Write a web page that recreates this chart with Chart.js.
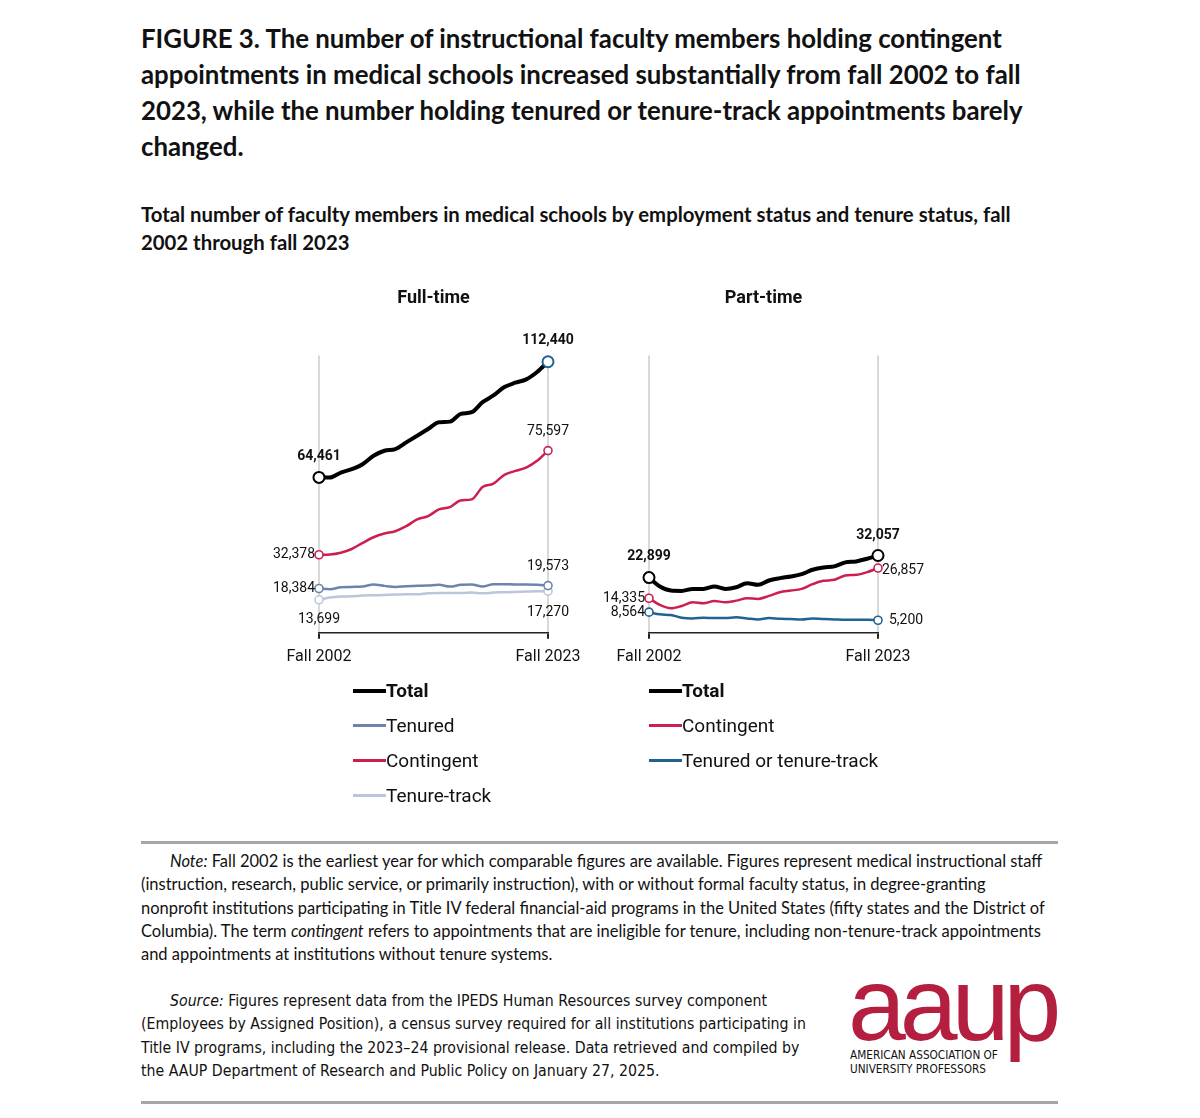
<!DOCTYPE html>
<html>
<head>
<meta charset="utf-8">
<script src="https://cdn.jsdelivr.net/npm/chart.js@4.4.1/dist/chart.umd.min.js"></script>
<style>
  html, body { margin: 0; padding: 0; background: #fff; }
  #page { position: relative; width: 1200px; height: 1118px; overflow: hidden; color: #111; }
  .abs { position: absolute; }
  .ln { width: max-content; white-space: nowrap; }
  #title { left: 141px; top: 20px; font: bold 24px Lato, sans-serif; line-height: 36px; }
  #subtitle { left: 141px; top: 200px; font: bold 18px Lato, sans-serif; line-height: 28px; }
  #note { left: 141px; top: 850px; font: 15px Lato, sans-serif; line-height: 23.3px; }
  #source { left: 141px; top: 989px; font: 16px "Liberation Sans Narrow", "DejaVu Sans Condensed", sans-serif; line-height: 23.3px; }
  .indent { padding-left: 29px; }
  .rule { left: 141px; width: 917px; height: 3px; background: #a6a6a6; }
  canvas { position: absolute; }
  .legend { position: absolute; top: 673px; font: 19px Roboto, sans-serif; color: #111; }
  .legend .row { height: 35px; display: flex; align-items: center; }
  .legend .swatch { width: 33px; }
  #logo { left: 848px; top: 952px; font: 104px "Liberation Sans", Arial, sans-serif; line-height: 1; letter-spacing: -6px; color: #b41f40; }
  #logotext { left: 850px; top: 1048px; font: 13px "Liberation Sans Narrow", "DejaVu Sans Condensed", sans-serif; line-height: 14px; color: #111; }
</style>
</head>
<body>
<div id="page">
  <div id="title" class="abs" data-w="882">
    <div class="ln">FIGURE 3. The number of instructional faculty members holding contingent</div>
    <div class="ln">appointments in medical schools increased substantially from fall 2002 to fall</div>
    <div class="ln">2023, while the number holding tenured or tenure-track appointments barely</div>
    <div class="ln">changed.</div>
  </div>
  <div id="subtitle" class="abs" data-w="870">
    <div class="ln">Total number of faculty members in medical schools by employment status and tenure status, fall</div>
    <div class="ln">2002 through fall 2023</div>
  </div>

  <canvas id="ftChart" width="350" height="404" style="left:259px;top:280px;"></canvas>
  <canvas id="ptChart" width="350" height="404" style="left:589px;top:280px;"></canvas>
  <div id="ftLegend" class="legend" style="left:353px;"></div>
  <div id="ptLegend" class="legend" style="left:649px;"></div>

  <div class="abs rule" style="top:841px;"></div>
  <div id="note" class="abs" data-w="904">
    <div class="ln indent"><i>Note:</i> Fall 2002 is the earliest year for which comparable figures are available. Figures represent medical instructional staff</div>
    <div class="ln">(instruction, research, public service, or primarily instruction), with or without formal faculty status, in degree-granting</div>
    <div class="ln">nonprofit institutions participating in Title IV federal financial-aid programs in the United States (fifty states and the District of</div>
    <div class="ln">Columbia). The term <i>contingent</i> refers to appointments that are ineligible for tenure, including non-tenure-track appointments</div>
    <div class="ln">and appointments at institutions without tenure systems.</div>
  </div>
  <div id="source" class="abs" data-w="665">
    <div class="ln indent"><i>Source:</i> Figures represent data from the IPEDS Human Resources survey component</div>
    <div class="ln">(Employees by Assigned Position), a census survey required for all institutions participating in</div>
    <div class="ln">Title IV programs, including the 2023–24 provisional release. Data retrieved and compiled by</div>
    <div class="ln">the AAUP Department of Research and Public Policy on January 27, 2025.</div>
  </div>
  <div id="logo" class="abs">aaup</div>
  <div id="logotext" class="abs" data-w="148">
    <div class="ln">AMERICAN ASSOCIATION OF</div>
    <div class="ln">UNIVERSITY PROFESSORS</div>
  </div>
  <div class="abs rule" style="top:1101px;"></div>
</div>

<script>
'use strict';

// years on the x axis
const years = [2002, 2003, 2004, 2005, 2006, 2007, 2008, 2009, 2010, 2011, 2012,
               2013, 2014, 2015, 2016, 2017, 2018, 2019, 2020, 2021, 2022, 2023];

// full-time faculty
const ftTotal = [64461, 64400, 66480, 67870, 69950, 73430, 75520, 76210, 78990, 81770, 84550,
                 87340, 87610, 90810, 91510, 95680, 98460, 101940, 103750, 105140, 108200, 112440];
const ftTenured = [18384, 18080, 18910, 19050, 19190, 20030, 19470, 19050, 19330, 19470, 19610,
                   19890, 19190, 19890, 20030, 19190, 20170, 20170, 20030, 20030, 19890, 19573];
const ftContingent = [32378, 32500, 33240, 34770, 37270, 39640, 41170, 42140, 44220, 47010, 48400,
                      51180, 52150, 54930, 55350, 60500, 61890, 65500, 67170, 68560, 71340, 75597];
const ftTenureTrack = [13699, 14600, 15020, 15160, 15440, 15580, 15720, 15850, 15990, 15990, 16410,
                       16550, 16550, 16550, 16690, 16410, 16690, 16830, 16970, 17110, 17245, 17270];

// part-time faculty
const ptTotal = [22899, 19190, 17520, 17380, 18220, 18220, 19190, 18220, 18910, 20580, 19890,
                 21700, 22670, 23360, 24340, 26150, 27120, 27540, 29200, 29620, 30730, 32057];
const ptContingent = [14335, 11540, 10150, 11130, 12660, 12240, 13210, 12660, 13350, 14320, 14050,
                      15300, 16830, 17520, 18220, 20170, 21560, 21970, 23780, 24060, 25170, 26857];
const ptTenuredTT = [8564, 7650, 7370, 6260, 5980, 6260, 6120, 6120, 6400, 5980, 5560,
                     6120, 5840, 5700, 5560, 5980, 5700, 5560, 5420, 5420, 5420, 5200];

const last = years.length - 1;
const isEnd = i => i === 0 || i === last;

// scale each text block so its widest line matches the reference width
function fitBlock (el) {
    const target = parseFloat(el.dataset.w);
    let w = 0;
    el.querySelectorAll('.ln').forEach(l => { w = Math.max(w, l.getBoundingClientRect().width - (parseFloat(getComputedStyle(l).paddingLeft) || 0)); });
    const fs = parseFloat(getComputedStyle(el).fontSize);
    el.style.fontSize = (fs * target / w) + 'px';
}

function series (label, data, color, width, radius, endColor) {
    return {
        label: label,
        data: data,
        borderColor: color,
        borderWidth: width,
        cubicInterpolationMode: 'monotone',
        pointRadius: ctx => isEnd(ctx.dataIndex) ? radius : 0,
        pointHoverRadius: ctx => isEnd(ctx.dataIndex) ? radius : 0,
        pointBorderWidth: width > 3 ? 2 : 1.6,
        pointBorderColor: ctx => (ctx.dataIndex === last && endColor) ? endColor : color,
        pointBackgroundColor: '#fff',
        clip: false,
        legendBold: width > 3
    };
}

// numbers at the start and end of each line
const endLabels = {
    id: 'endLabels',
    afterDatasetsDraw (chart, args, opts) {
        const ctx = chart.ctx;
        (opts.items || []).forEach(it => {
            const meta = chart.getDatasetMeta(it.ds);
            const i = it.end === 'first' ? 0 : last;
            const pt = meta.data[i];
            const v = chart.data.datasets[it.ds].data[i];
            let x = pt.x;
            let y = pt.y + (it.dy || 0);
            ctx.save();
            ctx.font = (it.bold ? 'bold ' : '') + '14px Roboto';
            ctx.fillStyle = '#111';
            ctx.textBaseline = 'middle';
            if (it.pos === 'above') { ctx.textAlign = 'center'; y -= it.off; }
            if (it.pos === 'below') { ctx.textAlign = 'center'; y += it.off; }
            if (it.pos === 'left') { ctx.textAlign = 'right'; x -= it.off; }
            if (it.pos === 'right') { ctx.textAlign = 'left'; x += it.off; }
            ctx.fillText(v.toLocaleString('en-US'), x, y);
            ctx.restore();
        });
    }
};

function makeChart (canvasId, title, datasets, items) {
    const ctx = document.getElementById(canvasId).getContext('2d');
    return new Chart(ctx, {
        type: 'line',
        data: { labels: years, datasets: datasets },
        plugins: [endLabels],
        options: {
            responsive: false,
            animation: false,
            layout: { padding: { left: 60, right: 61, top: 0, bottom: 8 } },
            plugins: {
                legend: { display: false },
                tooltip: { enabled: false },
                title: {
                    display: true,
                    text: title,
                    color: '#111',
                    font: { family: 'Roboto', size: 18, weight: 'bold' },
                    padding: { top: 8, bottom: 46 }
                },
                endLabels: { items: items }
            },
            scales: {
                x: {
                    grid: {
                        color: c => isEnd(c.index) ? '#d9d9d9' : 'rgba(0,0,0,0)',
                        tickColor: c => isEnd(c.index) ? '#222' : 'rgba(0,0,0,0)',
                        lineWidth: 2,
                        tickLength: 6
                    },
                    border: { display: true, color: '#222', width: 1.5 },
                    ticks: {
                        autoSkip: false,
                        maxRotation: 0,
                        padding: 9,
                        color: '#111',
                        font: { family: 'Roboto', size: 16 },
                        callback: (v, i) => isEnd(i) ? 'Fall ' + years[i] : ''
                    }
                },
                y: { display: false, min: 0, max: 115000 }
            }
        }
    });
}

function drawLegend (divId, chart) {
    const div = document.getElementById(divId);
    chart.data.datasets.forEach(ds => {
        const row = document.createElement('div');
        row.className = 'row';
        const sw = document.createElement('div');
        sw.className = 'swatch';
        sw.style.height = (ds.legendBold ? 4 : 2.5) + 'px';
        sw.style.background = ds.borderColor;
        const tx = document.createElement('span');
        tx.textContent = ds.label;
        if (ds.legendBold) tx.style.fontWeight = 'bold';
        row.appendChild(sw);
        row.appendChild(tx);
        div.appendChild(row);
    });
}

document.querySelectorAll('[data-w]').forEach(fitBlock);

const ftChart = makeChart('ftChart', 'Full-time', [
    series('Total', ftTotal, '#000', 4, 5.5, '#1f6391'),
    series('Tenured', ftTenured, '#6b85b0', 2.5, 4),
    series('Contingent', ftContingent, '#cc1f4f', 2.5, 4),
    series('Tenure-track', ftTenureTrack, '#bcc6da', 2.5, 4)
], [
    { ds: 0, end: 'first', pos: 'above', off: 21, bold: true },
    { ds: 0, end: 'last', pos: 'above', off: 21, bold: true },
    { ds: 2, end: 'first', pos: 'left', off: 4 },
    { ds: 2, end: 'last', pos: 'above', off: 19 },
    { ds: 1, end: 'first', pos: 'left', off: 4 },
    { ds: 1, end: 'last', pos: 'above', off: 19 },
    { ds: 3, end: 'first', pos: 'below', off: 20 },
    { ds: 3, end: 'last', pos: 'below', off: 21 }
]);

const ptChart = makeChart('ptChart', 'Part-time', [
    series('Total', ptTotal, '#000', 4, 5.5),
    series('Contingent', ptContingent, '#cc1f4f', 2.5, 4),
    series('Tenured or tenure-track', ptTenuredTT, '#1f6391', 2.5, 4)
], [
    { ds: 0, end: 'first', pos: 'above', off: 21, bold: true },
    { ds: 0, end: 'last', pos: 'above', off: 20, bold: true },
    { ds: 1, end: 'first', pos: 'left', off: 4 },
    { ds: 1, end: 'last', pos: 'right', off: 4, dy: 2 },
    { ds: 2, end: 'first', pos: 'left', off: 4 },
    { ds: 2, end: 'last', pos: 'right', off: 11 }
]);

drawLegend('ftLegend', ftChart);
drawLegend('ptLegend', ptChart);
</script>
</body>
</html>
